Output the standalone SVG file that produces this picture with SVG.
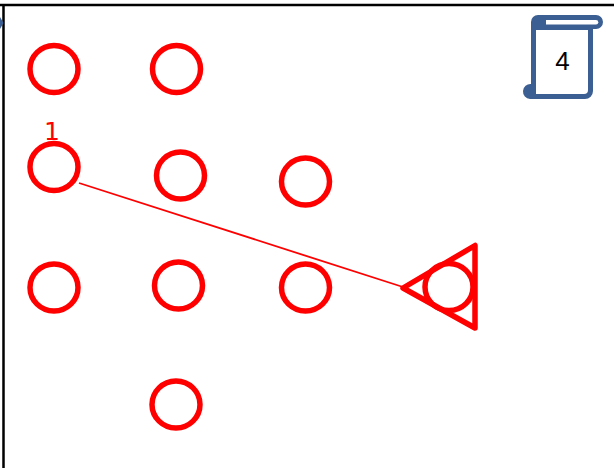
<svg xmlns="http://www.w3.org/2000/svg" width="614" height="468" viewBox="0 0 614 468">
<style>
.c{fill:none;stroke:#ff0000;stroke-width:5.500}
.b{fill:#3b5f92}
text{font-family:"Liberation Sans",Arial,sans-serif}
</style>
<rect width="614" height="468" fill="#fff"/>
<g id="frame"><path d="M0 5H614M3.500 5V468" fill="none" stroke="#000" stroke-width="2.500"/><path d="M0 17L3.500 23L0 29Z" class="b"/></g>
<g id="connectors"><path d="M79 183L403 287" fill="none" stroke="#ff0000" stroke-width="1.800"/></g>
<g id="n1"><ellipse class="c" cx="54" cy="69" rx="24" ry="23.500"/></g>
<g id="n2"><ellipse class="c" cx="176.500" cy="69" rx="24" ry="23.500"/></g>
<g id="n3"><ellipse class="c" cx="54" cy="167" rx="24" ry="23.500"/><text x="52" y="140" font-size="25" fill="#ff0000" text-anchor="middle" style="font-family:'DejaVu Sans',sans-serif">1</text></g>
<g id="n4"><ellipse class="c" cx="180.500" cy="175.500" rx="24" ry="23.500"/></g>
<g id="n5"><ellipse class="c" cx="305.500" cy="181.500" rx="24" ry="23.500"/></g>
<g id="n6"><ellipse class="c" cx="54" cy="287.500" rx="24" ry="23.500"/></g>
<g id="n7"><ellipse class="c" cx="178.500" cy="285.500" rx="24" ry="23.500"/></g>
<g id="n8"><ellipse class="c" cx="305.500" cy="287.500" rx="24" ry="23.500"/></g>
<g id="n9"><ellipse class="c" cx="176" cy="404.500" rx="24" ry="23.500"/></g>
<g id="n10"><path d="M475 245.500V328L403 288Z" fill="none" stroke="#ff0000" stroke-width="5.500" stroke-linejoin="round"/><ellipse class="c" cx="449" cy="287" rx="24" ry="23.500"/></g>
<g id="scroll">
<path class="b" d="M538 15H596A7 7 0 0 1 596 29H593V91A8 8 0 0 1 585 99H530A7.500 7.500 0 1 1 531 84V22A7 7 0 0 1 538 15Z"/>
<path d="M536 30H588V90A4 4 0 0 1 584 94H536Z" fill="#fff"/>
<path d="M546 20H596A2 2 0 0 1 596 24.500H546Z" fill="#fff"/>
<text x="562.500" y="69.500" font-size="26" fill="#000" text-anchor="middle">4</text>
</g>
</svg>
